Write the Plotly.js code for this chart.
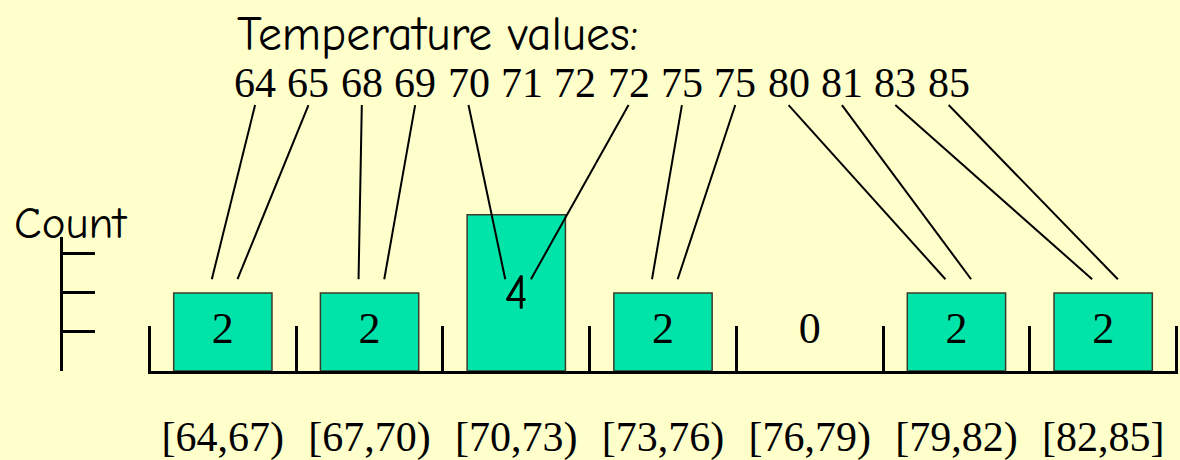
<!DOCTYPE html>
<html>
<head>
<meta charset="utf-8">
<script src="https://cdn.plot.ly/plotly-3.0.1.min.js"></script>
<style>
  html, body { margin: 0; padding: 0; background: #FFFFCC; }
  #chart { width: 1180px; height: 460px; }
</style>
</head>
<body>
<div id="chart"></div>
<script>
// ---- data ----
const binLabels = ['[64,67)', '[67,70)', '[70,73)', '[73,76)', '[76,79)', '[79,82)', '[82,85]'];
const counts = [2, 2, 4, 2, 0, 2, 2];
const tempValues = [64, 65, 68, 69, 70, 71, 72, 72, 75, 75, 80, 81, 83, 85];
const linked = [true, true, true, true, true, false, false, true, true, true, true, true, true, true];
const countTicks = [1, 2, 3];
const titleText = 'Temperature values:';
const countLabel = 'Count';

// ---- layout helpers ----
const serif = 'Liberation Serif, Times New Roman, serif';
const comic = 'Comic Sans MS, Comic Neue, Noto Sans, sans-serif';
const yMax = 9.5;            // plot area covers the full picture height above the baseline
const rowStart = 0.22, rowStep = 0.3636;   // number row, in category units
const rowY = 7.37, lineTopY = 6.81, lineBottomY = 2.35;
const tallest = Math.max(...counts);

function binOf(v) { return Math.min(binLabels.length - 1, Math.floor((v - 64) / 3)); }

const shapes = [];
const seenInBin = {};
tempValues.forEach((v, i) => {
  if (!linked[i]) return;
  const b = binOf(v);
  const k = seenInBin[b] || 0;
  seenInBin[b] = k + 1;
  shapes.push({
    type: 'line', xref: 'x', yref: 'y',
    x0: rowStart + i * rowStep, y0: lineTopY,
    x1: b + (k === 0 ? -0.075 : 0.10), y1: lineBottomY,
    line: { color: '#000', width: 2 }, layer: 'above'
  });
});

const annotations = [];
tempValues.forEach((v, i) => {
  annotations.push({
    xref: 'x', yref: 'y', x: rowStart + i * rowStep, y: rowY,
    text: String(v), showarrow: false, xanchor: 'center', yanchor: 'middle',
    font: { family: serif, size: 42, color: '#000' }
  });
});
annotations.push({
  xref: 'paper', yref: 'y', x: 235 / 1180, y: 8.62, text: titleText,
  showarrow: false, xanchor: 'left', yanchor: 'middle',
  font: { family: comic, size: 47.5, color: '#000' }
});
annotations.push({
  xref: 'paper', yref: 'y', x: 12 / 1180, y: 3.78, text: countLabel,
  showarrow: false, xanchor: 'left', yanchor: 'middle',
  font: { family: comic, size: 45, color: '#000' }
});

const bars = {
  type: 'bar', x: binLabels, y: counts,
  marker: {
    color: '#00E4AA',
    line: { color: '#3b3b2b', width: counts.map(c => c > 0 ? 1.5 : 0) }
  },
  hoverinfo: 'skip', showlegend: false
};
const barText = {
  type: 'scatter', mode: 'text', x: binLabels,
  y: counts.map(c => c > 0 ? c / 2 - (c === tallest ? 0.1 : 0) : 1),
  text: counts.map(String),
  textfont: {
    family: counts.map(c => c === tallest ? comic : serif),
    size: counts.map(c => c === tallest ? 50 : 44),
    color: '#000'
  },
  hoverinfo: 'skip', showlegend: false
};
const countAxisAnchor = {
  type: 'scatter', mode: 'markers', x: [binLabels[0]], y: [0], yaxis: 'y2',
  marker: { opacity: 0 }, hoverinfo: 'skip', showlegend: false
};

const layout = {
  width: 1180, height: 460,
  margin: { l: 0, r: 0, t: 0, b: 89, pad: 0 },
  paper_bgcolor: '#FFFFCC', plot_bgcolor: 'rgba(0,0,0,0)',
  bargap: 0.33,
  showlegend: false,
  xaxis: {
    type: 'category', domain: [148 / 1180, 1178 / 1180], range: [-0.51, 6.51],
    showline: true, linecolor: '#000', linewidth: 3,
    tickson: 'boundaries', ticks: 'inside', ticklen: 45, tickwidth: 3, tickcolor: '#000',
    ticklabelstandoff: 27,
    tickfont: { family: serif, size: 42, color: '#000' },
    showgrid: false, zeroline: false, fixedrange: true
  },
  yaxis: {
    range: [0, yMax], visible: false, showgrid: false, zeroline: false, fixedrange: true
  },
  yaxis2: {
    domain: [0, 134 / 371], range: [0, yMax * 134 / 371],
    anchor: 'free', position: 61 / 1180, side: 'left',
    showline: true, linecolor: '#000', linewidth: 3,
    ticks: 'inside', ticklen: 32, tickwidth: 3, tickcolor: '#000',
    tickvals: countTicks, showticklabels: false,
    showgrid: false, zeroline: false, fixedrange: true
  },
  shapes: shapes,
  annotations: annotations
};

Plotly.newPlot('chart', [bars, barText, countAxisAnchor], layout, { displayModeBar: false, staticPlot: true });
</script>
</body>
</html>
